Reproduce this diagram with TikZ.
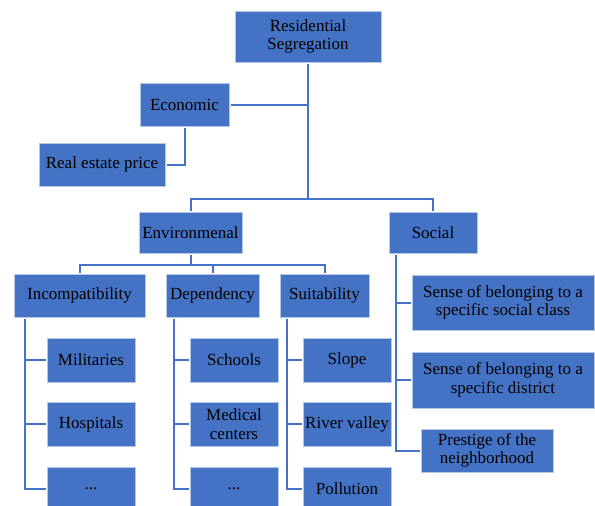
\documentclass[tikz,border=0pt]{standalone}
\usepackage{fontspec}
\setmainfont{Liberation Serif}
\usetikzlibrary{positioning}
\definecolor{boxblue}{HTML}{4472C4}
\definecolor{boxedge}{HTML}{B4C7E7}
\definecolor{linkblue}{HTML}{4472C4}
\begin{document}
\begin{tikzpicture}[x=1pt, y=-1pt,
	box/.style={draw=boxedge, line width=0.8pt, fill=boxblue, text=black, inner sep=0pt, outer sep=1.5pt, align=center, font=\fontsize{17}{18.5}\selectfont},
	leaf/.style={box, minimum width=88pt, minimum height=44pt},
	link/.style={draw=linkblue, line width=2pt}]
	\useasboundingbox (0,0) rectangle (595,506);

	% top levels
	\node[box, minimum width=146pt, minimum height=51pt] (root) at (308, 36.5) {Residential\\Segregation};
	\node[box, minimum width=89pt, minimum height=43pt] (econ) at (184.5, 104.5) {Economic};
	\node[box, minimum width=126pt, minimum height=43pt] (price) at (102, 164.5) {Real estate price};
	\node[box, minimum width=103pt, minimum height=41pt] (env) at (190.5, 232.5) {Environmenal};
	\node[box, minimum width=88pt, minimum height=41pt] (social) at (433, 232.5) {Social};

	% environmental groups
	\node[box, minimum width=131pt, minimum height=43pt] (incomp) at (79.5, 295.5) {Incompatibility};
	\node[box, minimum width=93pt, minimum height=43pt] (depend) at (212.5, 295.5) {Dependency};
	\node[box, minimum width=89pt, minimum height=43pt] (suit) at (324.5, 295.5) {Suitability};

	\node[leaf] (milit) at (91, 360) {Militaries};
	\node[leaf] (hosp) at (91, 424) {Hospitals};
	\node[leaf] (incdots) at (91, 489) {...};

	\node[leaf] (school) at (234, 360) {Schools};
	\node[leaf] (medical) at (234, 424) {Medical\\centers};
	\node[leaf] (depdots) at (234, 489) {...};

	\node[leaf] (slope) at (347, 360) {Slope};
	\node[leaf] (river) at (347, 424) {River valley};
	\node[leaf] (pollution) at (347, 489) {Pollution};

	% social items
	\node[box, minimum width=182pt, minimum height=55pt] (class) at (503, 302.5) {Sense of belonging to a\\specific social class};
	\node[box, minimum width=182pt, minimum height=56pt] (district) at (503, 380) {Sense of belonging to a\\specific district};
	\node[box, minimum width=132pt, minimum height=43pt] (prestige) at (487, 450.5) {Prestige of the\\neighborhood};

	% connectors
	\draw[link] (root.south) -- ++(0, 135) coordinate (hub);
	\draw[link] (econ.east) -- (econ.east -| root.south);
	\draw[link] (econ.south) |- (price.east);
	\draw[link] (env.north) |- (hub) -| (social.north);

	\draw[link] (env.south) -- ++(0, 10) coordinate (envhub);
	\draw[link] (incomp.north) |- (envhub) -| (suit.north);
	\draw[link] (depend.north) |- (envhub);

	\coordinate (incspine) at ([xshift=12pt]incomp.south west);
	\draw[link] (incspine) |- (incdots.west);
	\draw[link] (incspine |- milit.west) -- (milit.west);
	\draw[link] (incspine |- hosp.west) -- (hosp.west);

	\coordinate (depspine) at ([xshift=9pt]depend.south west);
	\draw[link] (depspine) |- (depdots.west);
	\draw[link] (depspine |- school.west) -- (school.west);
	\draw[link] (depspine |- medical.west) -- (medical.west);

	\coordinate (suitspine) at ([xshift=8pt]suit.south west);
	\draw[link] (suitspine) |- (pollution.west);
	\draw[link] (suitspine |- slope.west) -- (slope.west);
	\draw[link] (suitspine |- river.west) -- (river.west);

	\coordinate (socspine) at ([xshift=8pt]social.south west);
	\draw[link] (socspine) |- (prestige.west);
	\draw[link] (socspine |- class.west) -- (class.west);
	\draw[link] (socspine |- district.west) -- (district.west);
\end{tikzpicture}
\end{document}
